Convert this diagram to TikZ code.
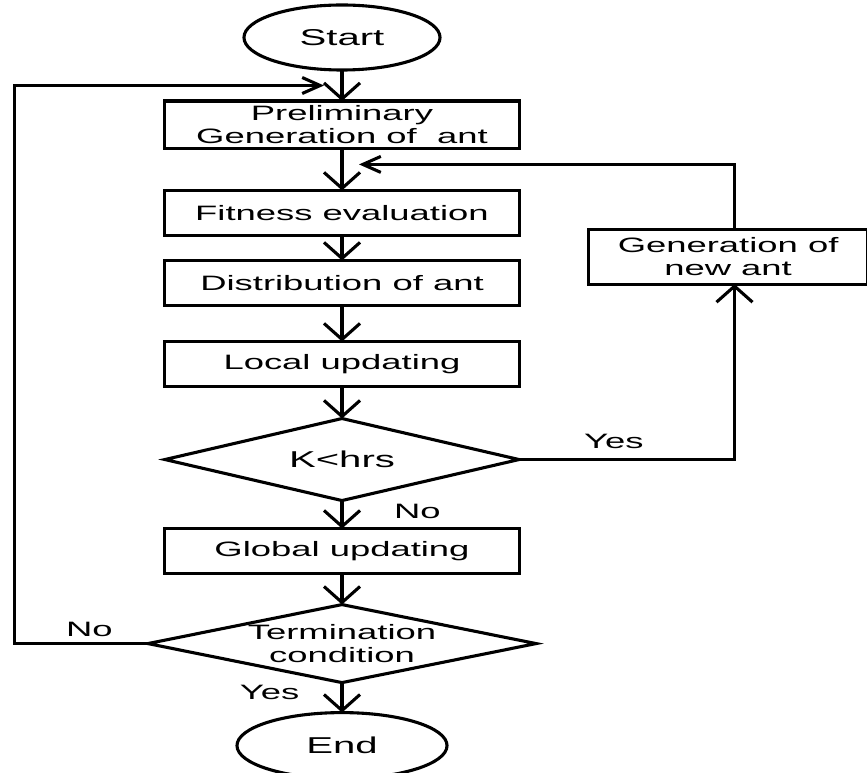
\documentclass[tikz,border=0pt]{standalone}
\usepackage{fontspec}
\setmainfont{Liberation Sans}[FakeStretch=1.75]
\usetikzlibrary{positioning,shapes.geometric,arrows.meta,calc}

\begin{document}
\begin{tikzpicture}[x=0.025cm, y=-0.025cm, line width=2.2pt, every node/.style={outer sep=0pt},
    box/.style={draw, rectangle, minimum width=8.875cm, minimum height=1.125cm, align=center, font=\fontsize{14.8}{16.2}\selectfont},
    terminal/.style={draw, ellipse, minimum width=4.9cm, minimum height=1.625cm, font=\fontsize{16.3}{18}\selectfont},
    decide/.style={draw, diamond, shape aspect=5, inner sep=0pt, align=center},
    lab/.style={inner sep=0pt, font=\fontsize{14.8}{16.2}\selectfont},
    varr/.style={-{Straight Barb[length=4mm, width=9mm]}},
    harr/.style={-{Straight Barb[length=4.5mm, width=4mm]}}]
    \useasboundingbox (0,0) rectangle (867,773);

    \node [terminal] (start) at (342,37.5) {Start};
    \node [box, below=0.775cm of start, minimum height=1.15cm] (prelim) {Preliminary\\Generation of\ \ ant};
    \node [box, below=1.05cm of prelim] (fit) {Fitness evaluation};
    \node [box, below=0.625cm of fit] (dist) {Distribution of ant};
    \node [box, below=0.9cm of dist] (local) {Local updating};
    \node [decide, below=0.8cm of local, minimum width=8.85cm, minimum height=2.05cm, font=\fontsize{16.3}{18}\selectfont] (khrs) {K<hrs};
    \node [box, below=0.7cm of khrs] (glob) {Global updating};
    \node [decide, below=0.775cm of glob, minimum width=9.7cm, minimum height=1.95cm, font=\fontsize{14.8}{16.2}\selectfont] (cond) {Termination\\condition};
    \node [terminal, below=0.75cm of cond, minimum width=5.25cm, minimum height=1.65cm] (stop) {End};
    \node [box, right=1.725cm of dist, yshift=0.66cm, minimum width=6.975cm, minimum height=1.375cm] (newant) {Generation of\\new ant};

    \coordinate (rk) at ($(khrs.east -| newant.south)+(0.16cm,0)$);
    \coordinate (ret) at ($(prelim.south)!0.38!(fit.north)+(0.425cm,0)$);
    \coordinate (lp) at ($(start.south)!0.5!(prelim.north)+(-0.45cm,0)$);
    \coordinate (lft) at ($(lp)+(-7.725cm,0)$);

    \draw [varr] (start) -- (prelim);
    \draw [varr] (prelim) -- (fit);
    \draw [varr] (fit) -- (dist);
    \draw [varr] (dist) -- (local);
    \draw [varr] (local) -- (khrs);
    \draw [varr] (khrs) -- node [lab, right=1.3cm, pos=0.4] {No} (glob);
    \draw [varr] (glob) -- (cond);
    \draw [varr] (cond) -- node [lab, left=1.07cm, pos=0.33] {Yes} (stop);

    \draw [varr] (khrs.east) -- node [lab, above=0.27cm, pos=0.44] {Yes} (rk) -- (rk |- newant.south);
    \draw [harr] (rk |- newant.north) -- (rk |- ret) -- (ret);
    \draw [harr] (cond.west) -- node [lab, above=0.16cm, pos=0.44] {No} (cond.west -| lft) -- (lft) -- (lp);
\end{tikzpicture}
\end{document}
